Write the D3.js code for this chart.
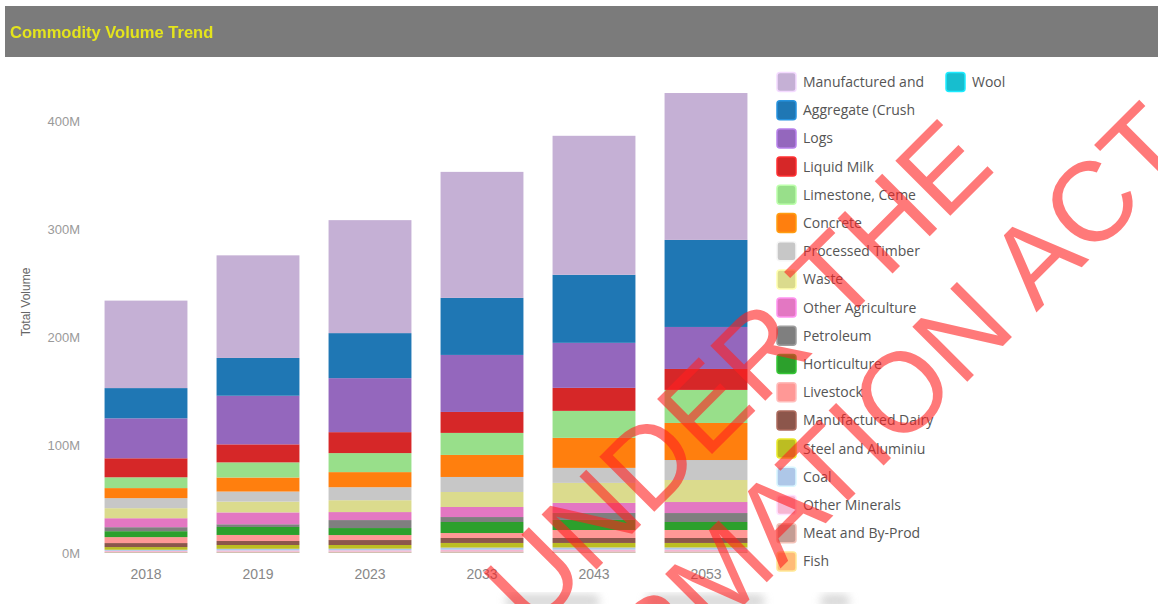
<!DOCTYPE html>
<html><head><meta charset="utf-8">
<script src="https://cdn.jsdelivr.net/npm/d3@7"></script>
<style>
html,body{margin:0;padding:0;background:#fff;}
svg{display:block;}
</style></head>
<body>
<svg id="chart" width="1158" height="604"></svg>
<script>
const years = ["2018", "2019", "2023", "2033", "2043", "2053"];
const commodities = ["Manufactured and", "Aggregate (Crush", "Logs", "Liquid Milk", "Limestone, Ceme", "Concrete", "Processed Timber", "Waste", "Other Agriculture", "Petroleum", "Horticulture", "Livestock", "Manufactured Dairy", "Steel and Aluminiu", "Coal", "Other Minerals", "Meat and By-Prod", "Fish", "Wool"];
const colors = ["#c5b0d5", "#1f77b4", "#9467bd", "#d62728", "#98df8a", "#ff7f0e", "#c7c7c7", "#dbdb8d", "#e377c2", "#7f7f7f", "#2ca02c", "#ff9896", "#8c564b", "#bcbd22", "#aec7e8", "#f7b6d2", "#c49c94", "#ffbb78", "#17becf"];
// values in millions, per commodity, per year
const manufactured = [81, 95, 104.6, 116.7, 128.7, 136];
const aggregate = [28, 35, 41.7, 52.8, 63, 80.6];
const logs = [37, 45, 50, 52.8, 41.7, 38.9];
const liquidMilk = [17.6, 16.7, 19.4, 19.4, 21.3, 19.4];
const limestone = [10, 14, 17.6, 20.4, 25, 30.6];
const concrete = [9.3, 13, 14, 20.4, 27.8, 34.3];
const processedTimber = [9.3, 9.3, 12, 13.9, 13.9, 18.5];
const waste = [9.3, 10, 11, 13.9, 18.5, 20.4];
const otherAgriculture = [8.3, 11, 7.4, 9.3, 9.3, 10.2];
const petroleum = [3.7, 2.5, 7.4, 4.6, 6.5, 8.3];
const horticulture = [5.5, 7.4, 6.5, 10.2, 9.3, 7.4];
const livestock = [5.5, 5.6, 4.6, 4.6, 7.4, 7.4];
const manufacturedDairy = [3.7, 3.7, 4.6, 4.6, 4.6, 4.6];
const steel = [2.5, 3.5, 3.4, 4.3, 4.2, 4.2];
const coal = [1, 1.5, 1.5, 2, 2, 2];
const otherMinerals = [1, 1.2, 1.3, 1.6, 1.7, 1.7];
const meat = [0.5, 0.7, 0.7, 0.9, 0.9, 0.9];
const fish = [0.3, 0.3, 0.3, 0.3, 0.3, 0.3];
const wool = [0.2, 0.2, 0.2, 0.2, 0.2, 0.2];
const seriesValues = [manufactured, aggregate, logs, liquidMilk, limestone, concrete, processedTimber, waste, otherAgriculture, petroleum, horticulture, livestock, manufacturedDairy, steel, coal, otherMinerals, meat, fish, wool];
const yTicks = [0, 100, 200, 300, 400];
const titleText = "Commodity Volume Trend";
const yAxisTitle = "Total Volume";
const watermarkLines = ["RELEASED UNDER THE", "OFFICIAL INFORMATION ACT"];

const svg = d3.select("#chart");
const defs = svg.append("defs");
defs.append("filter").attr("id", "blur").append("feGaussianBlur").attr("stdDeviation", 4);
defs.append("filter").attr("id", "glow").append("feGaussianBlur").attr("stdDeviation", 0.6);

// Title bar
svg.append("rect").attr("x", 5).attr("y", 6).attr("width", 1153).attr("height", 51).attr("fill", "#7b7b7b");
svg.append("text").attr("x", 10).attr("y", 38).text(titleText)
  .attr("font-family", "Liberation Sans, Arial, sans-serif").attr("font-weight", "bold")
  .attr("font-size", 16.5).attr("fill", "#e4e41c").attr("filter", "url(#glow)");

// Data table for stacking
const table = years.map((yr, i) => {
  const row = {year: yr};
  commodities.forEach((c, j) => row[c] = seriesValues[j][i]);
  return row;
});
// stack bottom-up in reverse legend order so first legend item is on top
const stackKeys = commodities.slice().reverse();
const stacked = d3.stack().keys(stackKeys)(table);

const x = d3.scaleBand().domain(years).range([90, 762]).paddingInner(0.26).paddingOuter(0.13);
const y = d3.scaleLinear().domain([0, 400]).range([553, 121]);
const color = d3.scaleOrdinal().domain(commodities).range(colors);

// Y axis
const yAxis = svg.append("g").attr("transform", "translate(80,0)")
  .call(d3.axisLeft(y).tickValues(yTicks).tickFormat(d => d + "M").tickSize(0).tickPadding(0));
yAxis.select(".domain").remove();
yAxis.selectAll("text").attr("font-family", "Liberation Sans, Arial, sans-serif").attr("font-size", 13).attr("fill", "#9a9a9a");

svg.append("text").attr("transform", "translate(30,302) rotate(-90)").attr("text-anchor", "middle")
  .text(yAxisTitle).attr("font-family", "Liberation Sans, Arial, sans-serif").attr("font-size", 12).attr("fill", "#666");

// Bars
svg.append("g").selectAll("g").data(stacked).join("g")
  .attr("fill", d => color(d.key))
  .selectAll("rect").data(d => d).join("rect")
  .attr("x", d => x(d.data.year))
  .attr("width", x.bandwidth())
  .attr("y", d => y(d[1]))
  .attr("height", d => y(d[0]) - y(d[1]));

// X axis
const xAxis = svg.append("g").attr("transform", "translate(0,569)")
  .call(d3.axisBottom(x).tickSize(0).tickPadding(0));
xAxis.select(".domain").remove();
xAxis.selectAll("text").attr("font-family", "Liberation Sans, Arial, sans-serif").attr("font-size", 14).attr("fill", "#888");

// faint footer shapes
svg.append("g").attr("filter", "url(#blur)").attr("fill", "#d0d0d0").attr("opacity", 0.8)
  .selectAll("rect").data([[505, 95], [645, 120], [820, 30]]).join("rect")
  .attr("x", d => d[0]).attr("y", 594).attr("width", d => d[1]).attr("height", 14).attr("rx", 7);

// Legend
const legend = svg.append("g");
const rowH = 28.2;
commodities.forEach((c, i) => {
  const col = i < 18 ? 0 : 1;
  const row = i < 18 ? i : 0;
  const lx = col === 0 ? 777 : 946;
  const ly = 82 + row * rowH;
  legend.append("rect").attr("x", lx).attr("y", ly - 9.5).attr("width", 19).attr("height", 19).attr("rx", 3)
    .attr("fill", color(c)).attr("stroke", d3.color(color(c)).brighter(0.6)).attr("stroke-width", 1.5);
  legend.append("text").attr("x", lx + 26).attr("y", ly + 5).text(c)
    .attr("font-family", "Open Sans, Liberation Sans, Arial, sans-serif").attr("font-size", 14).attr("fill", "#555");
});

// Watermark overlay
const wm = svg.append("g").attr("pointer-events", "none");
const wmPos = [[997, 169], [1196, 153]];
watermarkLines.forEach((t, i) => {
  wm.append("text").attr("transform", `translate(${wmPos[i][0]},${wmPos[i][1]}) rotate(-45)`)
    .attr("text-anchor", "end").text(t)
    .attr("font-family", "Liberation Sans, Arial, sans-serif").attr("font-size", 113)
    .attr("fill", "#ff2020").attr("fill-opacity", 0.6);
});
</script>
</body></html>
